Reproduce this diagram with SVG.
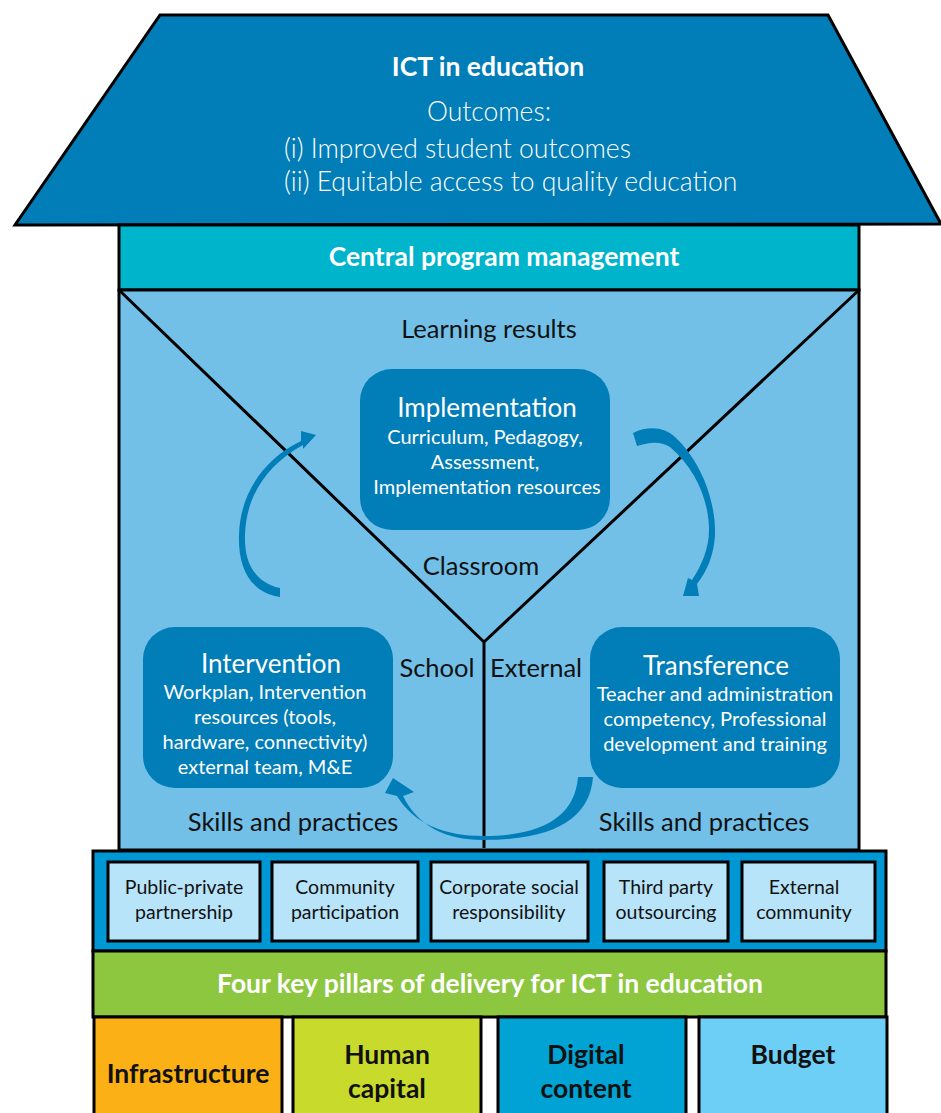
<svg xmlns="http://www.w3.org/2000/svg" width="941" height="1113" viewBox="0 0 941 1113">
<style>
.t{font-family:Lato,"Open Sans","Liberation Sans",sans-serif;text-anchor:middle}
.w{fill:#ffffff}
.k{fill:#111111}
.b{font-weight:bold}
.l{font-weight:300;font-size:26.5px}
.h{font-size:26.5px}
.r{font-size:26px}
.m{font-size:25.5px}
.x{font-size:20px}
.y{font-size:19.5px}
.edge{stroke:#000;stroke-width:3;fill:none}
.arr{fill:#017DB7}
</style>
<rect width="941" height="1113" fill="#ffffff"/>
<g id="roof">
<polygon points="160,15 828,15 941,224 15,225" fill="#017DB7" stroke="#000" stroke-width="3"/>
<text class="t w b h" x="488" y="76">ICT in education</text>
<text class="t w l" x="489" y="121">Outcomes:</text>
<text class="t w l" x="284" y="158" style="text-anchor:start">(i) Improved student outcomes</text>
<text class="t w l" x="284" y="191" style="text-anchor:start">(ii) Equitable access to quality education</text>
</g>
<g id="central">
<rect x="119" y="225" width="740" height="65" fill="#00B4CC" stroke="#000" stroke-width="3"/>
<text class="t w b h" x="504" y="266">Central program management</text>
</g>
<g id="body">
<rect x="119" y="290" width="740" height="560" fill="#72C0E8" stroke="#000" stroke-width="3"/>
</g>
<g id="connectors">
<path class="edge" d="M119,290 L484,642 L859,290 M484,642 L484,848" stroke-width="2.5"/>
<path class="arr" d="M280,597 C248,592 238,565 239,535 C240,495 262,460 301,441 L301,431 L316,435 L303,449 L303,445 C268,464 246,495 245,535 C244,560 253,582 280,588 Z"/>
<path class="arr" d="M633,433 C650,425 665,428 675,437 C700,460 716,500 715,535 C714,555 707,571 697,584 L699,596 L683,596 L688,578 L692,580 C702,565 709,548 709,530 C709,500 695,468 670,447 C660,441 650,442 637,446 Z"/>
<path class="arr" d="M593,777 C590,815 560,840 483,840 C445,840 418,826 403,796 L414,792 L393,778 L385,793 L397,796 C414,824 445,836 483,836 C545,836 575,815 578,777 Z"/>
</g>
<g id="labels">
<text class="t k m" x="489" y="338">Learning results</text>
<text class="t k m" x="481" y="575">Classroom</text>
<text class="t k m" x="437" y="677">School</text>
<text class="t k m" x="536" y="677">External</text>
<text class="t k m" x="293" y="831">Skills and practices</text>
<text class="t k m" x="704" y="831">Skills and practices</text>
</g>
<g id="implementation">
<rect x="360" y="369" width="250" height="161" rx="32" fill="#017DB7"/>
<text class="t w r" x="487" y="417">Implementation</text>
<text class="t w x" x="485" y="444">Curriculum, Pedagogy,</text>
<text class="t w x" x="485" y="469">Assessment,</text>
<text class="t w x" x="487" y="494">Implementation resources</text>
</g>
<g id="intervention">
<rect x="143" y="627" width="250" height="161" rx="32" fill="#017DB7"/>
<text class="t w r" x="271" y="673">Intervention</text>
<text class="t w x" x="265" y="699">Workplan, Intervention</text>
<text class="t w x" x="265" y="724">resources (tools,</text>
<text class="t w x" x="265" y="749">hardware, connectivity)</text>
<text class="t w x" x="265" y="774">external team, M&amp;E</text>
</g>
<g id="transference">
<rect x="590" y="627" width="250" height="161" rx="32" fill="#017DB7"/>
<text class="t w r" x="716" y="675">Transference</text>
<text class="t w x" x="715" y="701">Teacher and administration</text>
<text class="t w x" x="715" y="726">competency, Professional</text>
<text class="t w x" x="715" y="751">development and training</text>
</g>
<g id="partners">
<rect x="93" y="851" width="793" height="100" fill="#0098D4" stroke="#000" stroke-width="3"/>
<rect x="108" y="862" width="152" height="79" fill="#B8E4FA" stroke="#000" stroke-width="3"/>
<rect x="272" y="862" width="146" height="79" fill="#B8E4FA" stroke="#000" stroke-width="3"/>
<rect x="431" y="862" width="157" height="79" fill="#B8E4FA" stroke="#000" stroke-width="3"/>
<rect x="604" y="862" width="124" height="79" fill="#B8E4FA" stroke="#000" stroke-width="3"/>
<rect x="742" y="862" width="133" height="79" fill="#B8E4FA" stroke="#000" stroke-width="3"/>
<text class="t k y" x="184" y="894">Public-private</text>
<text class="t k y" x="184" y="919">partnership</text>
<text class="t k y" x="345" y="894">Community</text>
<text class="t k y" x="345" y="919">participation</text>
<text class="t k y" x="509" y="894">Corporate social</text>
<text class="t k y" x="509" y="919">responsibility</text>
<text class="t k y" x="666" y="894">Third party</text>
<text class="t k y" x="666" y="919">outsourcing</text>
<text class="t k y" x="804" y="894">External</text>
<text class="t k y" x="804" y="919">community</text>
</g>
<g id="pillars-title">
<rect x="93" y="951" width="793" height="66" fill="#8DC63F" stroke="#000" stroke-width="3"/>
<text class="t w b h" x="490" y="993">Four key pillars of delivery for ICT in education</text>
</g>
<g id="infrastructure">
<rect x="94" y="1017" width="188" height="110" fill="#FBB116" stroke="#000" stroke-width="3"/>
<text class="t k b h" x="188" y="1083">Infrastructure</text>
</g>
<g id="human">
<rect x="293" y="1017" width="188" height="110" fill="#C8DA2B" stroke="#000" stroke-width="3"/>
<text class="t k b h" x="387" y="1064">Human</text>
<text class="t k b h" x="387" y="1098">capital</text>
</g>
<g id="digital">
<rect x="498" y="1017" width="188" height="110" fill="#00A3D3" stroke="#000" stroke-width="3"/>
<text class="t k b h" x="586" y="1064">Digital</text>
<text class="t k b h" x="586" y="1098">content</text>
</g>
<g id="budget">
<rect x="699" y="1017" width="188" height="110" fill="#6DCFF6" stroke="#000" stroke-width="3"/>
<text class="t k b h" x="793" y="1064">Budget</text>
</g>
</svg>
